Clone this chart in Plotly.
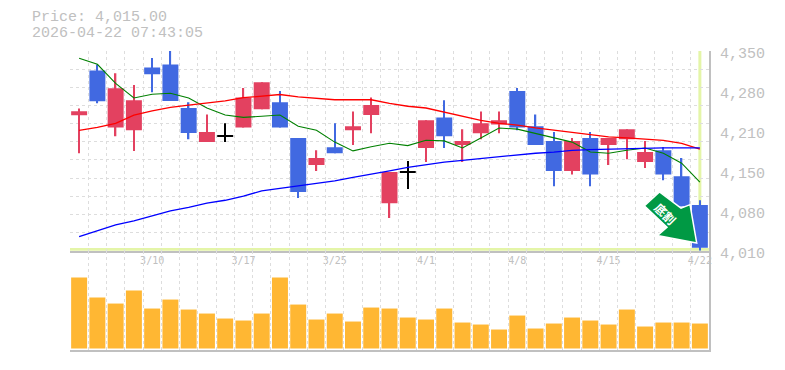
import plotly.graph_objects as go

opens = [4240.7,4317,4220,4215,4322,4327,4253,4195,4206,4220,4251,4263,4202,4156,4186,4215,4241,4091,4144,4185,4237,4190,4210,4225,4282,4222,4197,4146,4202,4190,4200,4161,4181,4137,4088]
closes = [4247.5,4264.5,4286.6,4266,4310.4,4265,4210.6,4212,4206,4271,4297,4220,4110,4168,4176,4222,4258,4144,4144,4232,4205,4197,4227,4232,4220,4190,4146,4197,4140,4202,4217,4178,4140,4086,4015]
highs = [4252,4327,4312,4292,4338,4350,4263,4242,4227,4287,4297,4282,4202,4181,4227,4247,4271,4144,4163,4232,4266,4217,4247,4247,4287,4242,4212,4202,4212,4202,4217,4197,4186,4168,4096]
lows = [4176,4261,4205,4180,4280,4265,4200,4195,4195,4220,4251,4220,4100,4146,4176,4190,4210,4066,4115,4161,4185,4161,4200,4210,4215,4190,4120,4140,4120,4156,4166,4151,4130,4086,4010]
ma_short = [4337.6,4327.4,4295,4270,4276.4,4278,4270,4253,4241,4237,4239,4241,4222,4215,4195,4180,4187,4193,4189,4198,4197,4185,4202,4219,4217,4210,4202,4195,4178,4176,4181,4185,4176,4159,4127]
ma_mid = [4215,4220,4227,4241,4248,4254,4258,4261,4265,4270.5,4273,4276,4272,4270,4267,4267,4267,4261,4256,4253,4246,4239,4232,4227,4224,4219,4215,4212,4207,4204,4202,4200,4198,4193,4183]
ma_long = [4034,4044,4054,4061,4070,4078,4084,4091,4096,4103,4112,4116,4120,4125,4129,4135,4140,4146,4152,4157,4161,4164,4167,4170,4174,4176,4178,4181,4182,4183,4184,4185,4185,4185,4185]
volumes = [71,51,45,58,40,49,39,35,30,28,35,71,44,29,35,27,41,40,31,29,40,26,24,19,33,20,25,31,28,24,39,22,26,26,25]
date_idx = [4,9,14,19,24,29,34]
date_labels = ["3/10","3/17","3/25","4/1","4/8","4/15","4/22"]
price_ticks = [4350,4282,4214,4146,4078,4010]
price_labels = ["4,350","4,280","4,210","4,150","4,080","4,010"]
last_price = 4015

RED, BLUE, BLACK = "#E34160", "#4169E1", "#000000"
GRID, AXIS, TXT = "#DDDDDD", "#C0C0C0", "#C0C0C0"
MONO = "Liberation Mono"
n = len(closes)
xs = list(range(n))

def color(o, c):
    return BLACK if o == c else (RED if c > o else BLUE)

colors = [color(o, c) for o, c in zip(opens, closes)]
bases, sizes = [], []
for o, c in zip(opens, closes):
    if o == c:
        bases.append(o - 0.85); sizes.append(1.7)
    else:
        bases.append(min(o, c)); sizes.append(abs(o - c))

fig = go.Figure()
fig.add_trace(go.Bar(x=xs, y=[h - l for h, l in zip(highs, lows)], base=lows, width=0.075,
                     marker=dict(color=colors, line_width=0)))
fig.add_trace(go.Bar(x=xs, y=sizes, base=bases, width=0.875,
                     marker=dict(color=colors, line_width=0)))
for vals, col, w in [(ma_short, "#008000", 1.1), (ma_mid, "#FF0000", 1.3), (ma_long, "#0000FF", 1.3)]:
    fig.add_trace(go.Scatter(x=xs, y=vals, mode="lines", line=dict(color=col, width=w)))
fig.add_trace(go.Bar(x=xs, y=volumes, width=0.875, xaxis="x2", yaxis="y2",
                     marker=dict(color="#FFB733", line_width=0)))

grid_y = [4010 + k * 340 / 11 for k in range(12)]
grid_x = [k - 0.5 for k in range(n + 1)]
xcommon = dict(range=[-0.5, n - 0.5], showgrid=False, zeroline=False, showline=True,
               linecolor=AXIS, linewidth=2, fixedrange=True,
               minor=dict(tickvals=grid_x, showgrid=True, gridcolor=GRID, griddash="3px,3px", gridwidth=1, ticks=""))

L, R, T, B = 70, 709, 50.7, 350
H = B - T
split = (B - 250.7) / H

def px(x):
    return (x - L) / (R - L)

def py(y):
    return (B - y) / H

arrow = [(644.3, 205.7), (659.5, 191.7), (681, 208), (690, 204.5), (696.7, 243), (657.3, 235.5), (667, 227)]
path = "M " + " L ".join(f"{px(a):.4f},{py(b):.4f}" for a, b in arrow) + " Z"

fig.update_layout(
    width=785, height=370, autosize=False,
    margin=dict(l=L, r=785 - R, t=T, b=370 - B, autoexpand=False),
    paper_bgcolor="white", plot_bgcolor="white", showlegend=False, barmode="overlay",
    xaxis=dict(**xcommon, anchor="y", tickvals=date_idx, ticktext=date_labels, ticks="",
               tickfont=dict(family="DejaVu Sans Mono", size=10, color=TXT), ticklabelstandoff=-1),
    xaxis2=dict(**xcommon, anchor="y2", matches="x", showticklabels=False, ticks=""),
    yaxis=dict(domain=[split, 1], range=[4010, 4350], side="right", anchor="x", showgrid=False,
               zeroline=False, showline=True, linecolor=AXIS, linewidth=2, fixedrange=True,
               tickvals=price_ticks, ticktext=price_labels, ticks="",
               tickfont=dict(family=MONO, size=15, color=TXT), ticklabelstandoff=6, ticklabelshift=2,
               minor=dict(tickvals=grid_y, showgrid=True, gridcolor=GRID, griddash="3px,3px", gridwidth=1, ticks="")),
    yaxis2=dict(domain=[0, split], range=[-1.5, 97.8], side="right", anchor="x2", showgrid=False,
                zeroline=False, showline=True, linecolor=AXIS, linewidth=2, showticklabels=False, ticks="",
                fixedrange=True),
    shapes=[
        dict(type="line", xref="x", yref="y", x0=n - 1, x1=n - 1, y0=last_price, y1=4350,
             line=dict(color="#E4F5A8", width=3), layer="below"),
        dict(type="line", xref="x", yref="y", x0=-0.5, x1=n - 0.5, y0=last_price - 3, y1=last_price - 3,
             line=dict(color="#E4F5A8", width=3), layer="below"),
        dict(type="path", xref="paper", yref="paper", path=path, fillcolor="#009944",
             line=dict(color="white", width=1.5), layer="above"),
    ],
    annotations=[
        dict(text="Price: 4,015.00", xref="paper", yref="paper", x=px(30), y=py(17), xanchor="left", yanchor="middle",
             showarrow=False, font=dict(family=MONO, size=15, color=TXT)),
        dict(text="2026-04-22 07:43:05", xref="paper", yref="paper", x=px(30), y=py(33.5), xanchor="left", yanchor="middle",
             showarrow=False, font=dict(family=MONO, size=15, color=TXT)),
        dict(text="<b>底割</b>", xref="paper", yref="paper", x=px(666), y=py(213), xanchor="center", yanchor="middle",
             textangle=45, showarrow=False, font=dict(family="Noto Sans CJK JP", size=12, color="white")),
    ],
)
fig.write_html("out.html", config={"displayModeBar": False},
               post_script="document.body.style.margin='0';document.documentElement.style.overflow='hidden';")
